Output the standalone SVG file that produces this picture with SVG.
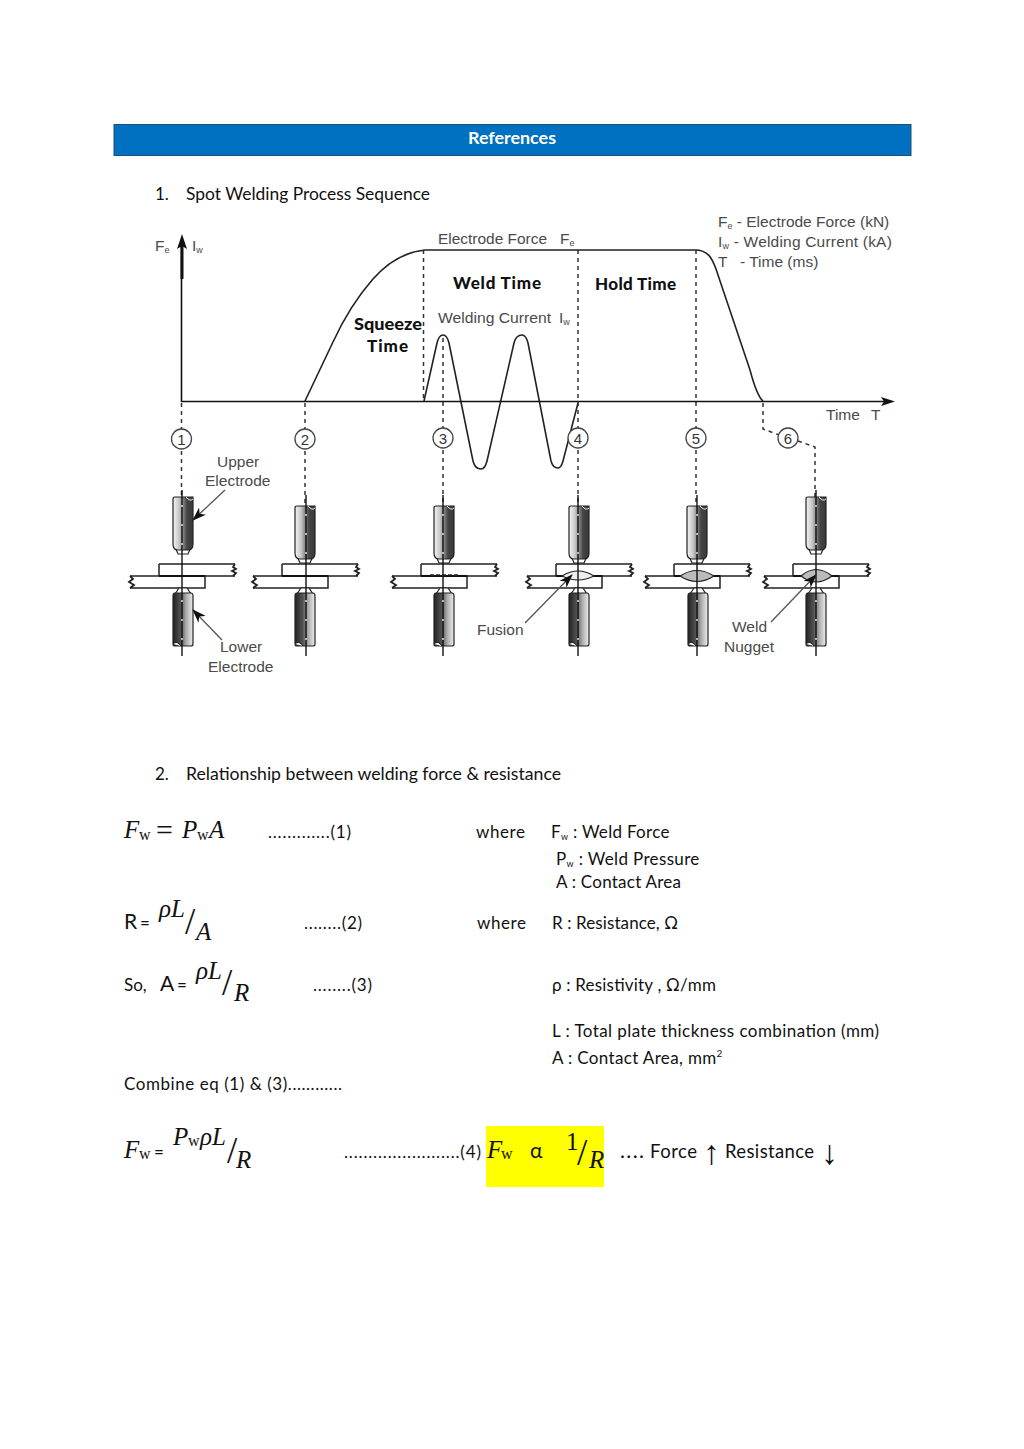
<svg xmlns="http://www.w3.org/2000/svg" width="1024" height="1449" viewBox="0 0 1024 1449">
<style>
.t{font-family:Lato,"Open Sans",sans-serif;font-size:17px;fill:#111}
.m{font-family:"Liberation Serif",serif;font-style:italic;font-size:25px;fill:#111}
.s{font-family:"Liberation Serif",serif;font-style:normal;font-size:16px;fill:#111}
.big{font-family:"Liberation Serif",serif;font-size:37px;fill:#111}
.eq{font-family:Lato,sans-serif;font-size:17px;fill:#111}
.g{font-family:"Liberation Sans",Arial,sans-serif;font-size:15.5px;fill:#4a4a4a}
.sub{font-size:9px}
.b{font-family:Lato,"Open Sans",sans-serif;font-weight:900;font-size:17px;fill:#111}
.ln{fill:none;stroke:#222;stroke-width:1.6}
.ctr{fill:none;stroke:#111;stroke-width:1.4}
.cd{fill:none;stroke:#d8d8d8;stroke-width:1.6;stroke-dasharray:2 17}
.dash{fill:none;stroke:#333;stroke-width:1.5;stroke-dasharray:4 4}
.ax{fill:none;stroke:#111;stroke-width:1.6}
.ar{fill:none;stroke:#555;stroke-width:1.3}
.c{fill:#fff;stroke:#444;stroke-width:1.3}
.n{font-family:"Liberation Sans",Arial,sans-serif;font-size:15px;fill:#333;text-anchor:middle}
.pl{fill:#fff;stroke:#222;stroke-width:1.5}
.el{stroke:#222;stroke-width:1.2}
</style>
<defs>
<linearGradient id="gu" x1="0" x2="1" y1="0" y2="0"><stop offset="0" stop-color="#f4f4f4"/><stop offset=".3" stop-color="#c8c8c8"/><stop offset=".55" stop-color="#777"/><stop offset=".7" stop-color="#444"/><stop offset="1" stop-color="#3a3a3a"/></linearGradient>
<linearGradient id="gl" x1="0" x2="1" y1="0" y2="0"><stop offset="0" stop-color="#222"/><stop offset=".4" stop-color="#555"/><stop offset=".65" stop-color="#aaa"/><stop offset="1" stop-color="#eee"/></linearGradient>
<marker id="aw" viewBox="0 0 14 10" refX="13" refY="5" markerWidth="14" markerHeight="10" orient="auto" markerUnits="userSpaceOnUse"><path d="M0 0L14 5L0 10L4 5Z" fill="#111"/></marker>
<g id="upperEl">
<path class="el" fill="#fff" d="M-8 50L-5 57H5L8 50Z"/>
<path class="el" fill="url(#gu)" d="M-10 2Q-10 0-8 0H10V47Q10 53 5 53H-5Q-10 53-10 47Z"/>
<path d="M3 0Q7 5 10 2" fill="none" stroke="#eee" stroke-width="1"/>
</g>
<g id="lowerEl">
<path class="el" fill="#fff" d="M-8 6L-4 0H4L8 6Z"/>
<path class="el" fill="url(#gl)" d="M-8 5H8Q10 5 10 8V56Q10 58 8 58H-8Q-10 58-10 56V8Q-10 5-8 5Z"/>
<path d="M-10 56Q-6 52-2 58" fill="#fff" stroke="#222" stroke-width="1"/>
</g>
<g id="plates">
<path class="pl" d="M-23 0H53M-23 0V12H53"/>
<path d="M53 0L51 3L54 5L50 7L54 9L51 12" fill="none" stroke="#222" stroke-width="1.8"/>
<path class="pl" d="M-52 12H23V24H-52"/>
<path d="M-52 12L-49 15L-53 18L-48 21L-52 24" fill="none" stroke="#222" stroke-width="1.8"/>
<path d="M-23 12H23" fill="none" stroke="#111" stroke-width="1.8"/>
</g>
</defs>
<rect width="1024" height="1449" fill="#fff"/>
<g id="header"><rect x="114" y="124.500" width="797" height="31" fill="#0070c0" stroke="#1f4e79" stroke-width="1"/><text x="512" y="143.500" text-anchor="middle" font-family="Lato,sans-serif" font-weight="700" font-size="17" fill="#fff" textLength="88" lengthAdjust="spacingAndGlyphs">References</text></g>
<g id="heading-1"><text class="t" x="155" y="200">1.</text><text class="t" x="186" y="200" textLength="244" lengthAdjust="spacingAndGlyphs">Spot Welding Process Sequence</text></g>

<g id="connectors">
<path class="dash" d="M181.500 403V497M305 403V506M423.500 250V401M443 338V506M578 250V506M696 250V506M763 403V429L782 436M798 441L815 447V497"/>
<path class="ln" d="M305 401L333 342C345 316 358 296 373 279C388 262 405 252 425 250H695C708 250 712 258 716 269L750 370C754 385 758 397 763 401"/>
<path class="ln" d="M424 401L437 343Q439 335 443 335Q447 335 449 343L473 461Q475 469 481 469Q485 469 487 461L514 343Q516 335 522 335Q526 335 528 343L551 461Q553 468 558 468Q561 468 563 461L578 403"/>
<path class="ax" d="M181.500 402V240"/>
<path fill="none" stroke="#111" stroke-width="3" d="M182 279V246"/>
<path d="M182 234L187 249L182 246L177 249Z" fill="#111"/>
<path class="ax" d="M181 401.500H888"/>
<path d="M895 401.500L881 397L884 401.500L881 406Z" fill="#111"/>
</g>

<g id="chart-labels">
<text class="g" x="155" y="251">F<tspan class="sub" dy="2">e</tspan></text>
<text class="g" x="192" y="251">I<tspan class="sub" dy="2">w</tspan></text>
<text class="g" x="438" y="244" textLength="109" lengthAdjust="spacingAndGlyphs">Electrode Force</text>
<text class="g" x="560" y="244">F<tspan class="sub" dy="2">e</tspan></text>
<text class="g" x="438" y="323" textLength="113" lengthAdjust="spacingAndGlyphs">Welding Current</text>
<text class="g" x="559" y="323">I<tspan class="sub" dy="2">w</tspan></text>
<text class="g" x="718" y="227">F<tspan class="sub" dy="2">e</tspan><tspan dy="-2"> - Electrode Force (kN)</tspan></text>
<text class="g" x="718" y="247" letter-spacing=".2">I<tspan class="sub" dy="2">w</tspan><tspan dy="-2">  - Welding Current (kA)</tspan></text>
<text class="g" x="718" y="267">T<tspan x="740">- Time (ms)</tspan></text>
<text class="g" x="826" y="420">Time</text><text class="g" x="871" y="420">T</text>
<text class="b" x="453" y="289" textLength="88">Weld Time</text>
<text class="b" x="595" y="290" textLength="81">Hold Time</text>
<text class="b" x="354" y="330" textLength="68" lengthAdjust="spacingAndGlyphs">Squeeze</text>
<text class="b" x="367" y="352" textLength="41">Time</text>
<text class="g" x="217" y="467">Upper</text>
<text class="g" x="205" y="486">Electrode</text>
<text class="g" x="220" y="652">Lower</text>
<text class="g" x="208" y="672">Electrode</text>
<text class="g" x="477" y="635">Fusion</text>
<text class="g" x="732" y="632">Weld</text>
<text class="g" x="724" y="652">Nugget</text>
</g>

<g id="step-1"><circle class="c" cx="181.500" cy="439" r="10"/><text class="n" x="181.500" y="444.500">1</text>
<use href="#plates" x="182" y="564"/><use href="#upperEl" x="183" y="497"/><use href="#lowerEl" x="183" y="588"/><path class="ctr" d="M182 490V656"/><path class="cd" d="M182 505V545M182 600V640"/></g>
<g id="step-2"><circle class="c" cx="305" cy="439" r="10"/><text class="n" x="305" y="444.500">2</text>
<use href="#plates" x="305" y="564"/><use href="#upperEl" x="305" y="506"/><use href="#lowerEl" x="305" y="588"/><path class="ctr" d="M306 495V656"/><path class="cd" d="M306 514V554M306 600V640"/></g>
<g id="step-3"><circle class="c" cx="443" cy="438" r="10"/><text class="n" x="443" y="443.500">3</text>
<use href="#plates" x="444" y="564"/><use href="#upperEl" x="444" y="506"/><use href="#lowerEl" x="444" y="588"/><path class="ctr" d="M443 495V656"/><path class="cd" d="M443 514V554M443 600V640"/>
<path d="M430 575H458" stroke="#222" stroke-width="1.500" stroke-dasharray="4 2"/></g>
<g id="step-4"><use href="#plates" x="579" y="564"/><use href="#upperEl" x="579" y="506"/><use href="#lowerEl" x="579" y="588"/>
<path d="M562 576Q578 566 594 576Q578 584 562 576Z" fill="#eee" stroke="#222" stroke-width="1.200"/><path class="ctr" d="M578 495V656"/><path class="cd" d="M578 514V554M578 600V640"/>
<circle class="c" cx="578" cy="438" r="10"/><text class="n" x="578" y="443.500">4</text></g>
<g id="step-5"><use href="#plates" x="697" y="564"/><use href="#upperEl" x="697" y="506"/><use href="#lowerEl" x="698" y="588"/>
<path d="M680 576Q697 565 714 576Q697 587 680 576Z" fill="#bbb" stroke="#222" stroke-width="1.200"/><path class="ctr" d="M697 495V656"/><path class="cd" d="M697 514V554M697 600V640"/>
<circle class="c" cx="696" cy="438" r="10"/><text class="n" x="696" y="443.500">5</text></g>
<g id="step-6"><use href="#plates" x="816" y="564"/><use href="#upperEl" x="816" y="497"/><use href="#lowerEl" x="816" y="588"/>
<path d="M801 576Q816 563 832 576Q816 588 801 576Z" fill="#bbb" stroke="#222" stroke-width="1.200"/><path class="ctr" d="M816 490V656"/><path class="cd" d="M816 505V545M816 600V640"/>
<circle class="c" cx="788" cy="438" r="10"/><text class="n" x="788" y="443.500">6</text></g>

<g id="leaders">
<path class="ar" d="M225 490L193 520" marker-end="url(#aw)"/>
<path class="ar" d="M222 640L193 610" marker-end="url(#aw)"/>
<path class="ar" d="M525 623L572 575" marker-end="url(#aw)"/>
<path class="ar" d="M771 622L816 575" marker-end="url(#aw)"/>
</g>

<g id="heading-2"><text class="t" x="155" y="780">2.</text><text class="t" x="186" y="780" textLength="375" lengthAdjust="spacingAndGlyphs">Relationship between welding force &amp; resistance</text></g>

<g id="eq-1">
<text class="m" x="124" y="838">F</text><text class="s" x="139" y="840">w</text><text class="s" x="156" y="840" style="font-size:30px">=</text><text class="m" x="182" y="838">P</text><text class="s" x="197" y="840">w</text><text class="m" x="209" y="838">A</text>
<text class="t" x="268" y="838" textLength="83">.............(1)</text>
<text class="t" x="476" y="838" textLength="49">where</text>
<text class="t" x="551" y="838" letter-spacing=".3">F<tspan class="sub" font-size="10" dy="2">w</tspan><tspan dy="-2"> : Weld Force</tspan></text>
<text class="t" x="556" y="865" letter-spacing=".35">P<tspan class="sub" font-size="10" dy="2">w</tspan><tspan dy="-2"> : Weld Pressure</tspan></text>
<text class="t" x="556" y="888" textLength="125">A : Contact Area</text>
</g>
<g id="eq-2">
<text class="t" x="124" y="929" style="font-size:21px">R</text><text class="eq" x="140" y="929">=</text>
<text class="m" x="159" y="917">ρL</text><text class="big" x="185" y="934">/</text><text class="m" x="196" y="940">A</text>
<text class="t" x="304" y="929" textLength="58">........(2)</text>
<text class="t" x="477" y="929" textLength="49">where</text>
<text class="t" x="552" y="929" textLength="126">R : Resistance, Ω</text>
</g>
<g id="eq-3">
<text class="t" x="124" y="991">So,</text><text class="t" x="160" y="991" style="font-size:21px">A</text><text class="eq" x="177" y="991">=</text>
<text class="m" x="196" y="979">ρL</text><text class="big" x="222" y="995">/</text><text class="m" x="234" y="1001">R</text>
<text class="t" x="313" y="991" textLength="59">........(3)</text>
<text class="t" x="552" y="991" textLength="164">ρ : Resistivity , Ω/mm</text>
<text class="t" x="552" y="1037" textLength="327">L : Total plate thickness combination (mm)</text>
<text class="t" x="552" y="1064" letter-spacing=".35">A : Contact Area, mm<tspan font-size="10" dy="-7">2</tspan></text>
</g>
<g id="combine"><text class="t" x="124" y="1090" textLength="218">Combine eq (1) &amp; (3)............</text></g>
<g id="eq-4">
<text class="m" x="124" y="1158">F</text><text class="s" x="139" y="1159">w</text><text class="eq" x="154" y="1158">=</text>
<text class="m" x="173" y="1145">P</text><text class="s" x="188" y="1146">w</text><text class="m" x="200" y="1145">ρL</text><text class="big" x="227" y="1163">/</text><text class="m" x="236" y="1168">R</text>
<text class="t" x="344" y="1158" textLength="137">........................(4)</text>
</g>
<g id="highlight">
<rect x="486" y="1126" width="118" height="61" fill="#ffff00"/>
<text class="m" x="487" y="1158">F</text><text class="s" x="501" y="1159">w</text>
<text class="t" x="530" y="1158" style="font-size:21px">α</text>
<text class="m" x="566" y="1150" style="font-style:normal">1</text><text class="big" x="577" y="1165">/</text><text class="m" x="589" y="1168">R</text>
</g>
<g id="result">
<text class="t" x="620" y="1158" style="font-size:21px" textLength="24">....</text>
<text class="t" x="650" y="1158" style="font-size:18.500px" textLength="47">Force</text>
<text x="703" y="1164" font-family="Liberation Sans,sans-serif" font-size="34" fill="#111" textLength="17" lengthAdjust="spacingAndGlyphs">↑</text>
<text class="t" x="725" y="1158" style="font-size:18.500px" textLength="89">Resistance</text>
<text x="821" y="1164" font-family="Liberation Sans,sans-serif" font-size="34" fill="#111" textLength="17" lengthAdjust="spacingAndGlyphs">↓</text>
</g>
</svg>
